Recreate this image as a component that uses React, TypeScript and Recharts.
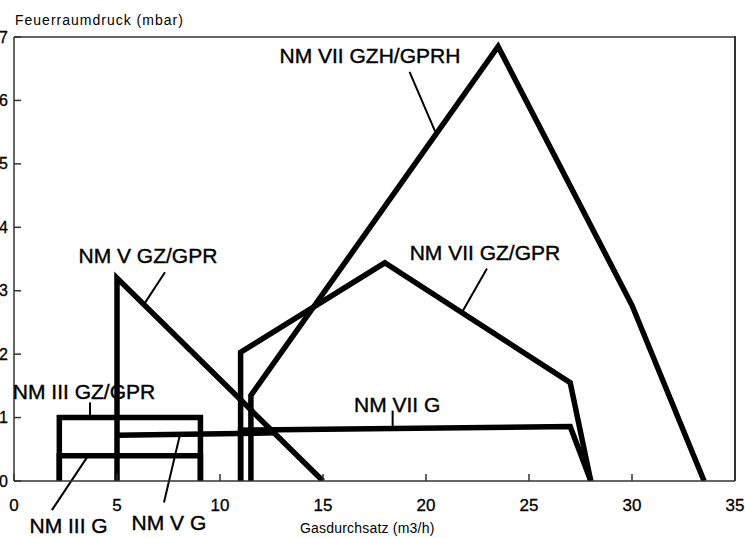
import { LineChart, Line, XAxis, YAxis, ReferenceLine, ReferenceDot } from 'recharts'

// Kennlinien: Gasdurchsatz (m3/h) -> Feuerraumdruck (mbar)
const nmIIIGZ = [
  { x: 2.2, y: 0 },
  { x: 2.2, y: 1.0 },
  { x: 9.05, y: 1.0 },
  { x: 9.05, y: 0 },
]
const nmIIIG = [
  { x: 2.2, y: 0 },
  { x: 2.2, y: 0.4 },
  { x: 9.05, y: 0.4 },
  { x: 9.05, y: 0 },
]
const nmVGZ = [
  { x: 5, y: 0 },
  { x: 5, y: 3.2 },
  { x: 15, y: 0 },
]
const nmVG = [
  { x: 5, y: 0.72 },
  { x: 12.8, y: 0.76 },
]
const nmVIIG = [
  { x: 11, y: 0 },
  { x: 11, y: 0.8 },
  { x: 27, y: 0.86 },
  { x: 28, y: 0 },
]
const nmVIIGZ = [
  { x: 11, y: 0 },
  { x: 11, y: 2.03 },
  { x: 18, y: 3.44 },
  { x: 27, y: 1.55 },
  { x: 28, y: 0 },
]
const nmVIIGZH = [
  { x: 11.5, y: 0 },
  { x: 11.5, y: 1.35 },
  { x: 23.5, y: 6.85 },
  { x: 30, y: 2.77 },
  { x: 33.5, y: 0 },
]

const xTicks = [0, 5, 10, 15, 20, 25, 30, 35]
const yTicks = [0, 1, 2, 3, 4, 5, 6, 7]

// Beschriftungen (data coords)
const labels = [
  { text: 'NM VII GZH/GPRH', x: 17.28, y: 6.59 },
  { text: 'NM VII GZ/GPR', x: 22.86, y: 3.48 },
  { text: 'NM V GZ/GPR', x: 6.5, y: 3.43 },
  { text: 'NM III GZ/GPR', x: 3.4, y: 1.3 },
  { text: 'NM VII G', x: 18.6, y: 1.08 },
  { text: 'NM III G', x: 2.65, y: -0.82 },
  { text: 'NM V G', x: 7.52, y: -0.77 },
]
const leaders = [
  { x1: 19.2, y1: 6.45, x2: 20.5, y2: 5.47 },
  { x1: 22.96, y1: 3.35, x2: 21.75, y2: 2.66 },
  { x1: 7.33, y1: 3.29, x2: 6.3, y2: 2.78 },
  { x1: 3.69, y1: 1.24, x2: 3.69, y2: 1.0 },
  { x1: 18.38, y1: 1.11, x2: 18.38, y2: 0.83 },
  { x1: 3.6, y1: 0.4, x2: 1.84, y2: -0.46 },
  { x1: 8.05, y1: 0.72, x2: 7.28, y2: -0.34 },
]

const series = [nmIIIGZ, nmIIIG, nmVGZ, nmVG, nmVIIG, nmVIIGZ, nmVIIGZH]

const font = '"Liberation Sans", Arial, sans-serif'
const axisColor = '#333'

const YTick = (props: any) => {
  const { x, y, payload } = props
  return (
    <g>
      <line x1={x} x2={x + 7} y1={y} y2={y} stroke={axisColor} strokeWidth={1.5} />
      <text x={x - 6} y={y} textAnchor="end" dominantBaseline="central" fontSize={16} fontFamily={font} fill="#000" stroke="#000" strokeWidth={0.3}>
        {payload.value}
      </text>
    </g>
  )
}

const XTick = (props: any) => {
  const { x, y, payload } = props
  return (
    <g>
      <line x1={x} x2={x} y1={y} y2={y - 7} stroke={axisColor} strokeWidth={1.5} />
      <text x={x} y={y + 30} textAnchor="middle" fontSize={17} fontFamily={font} fill="#000" stroke="#000" strokeWidth={0.3}>
        {payload.value}
      </text>
    </g>
  )
}

export default function App() {
  return (
    <div style={{ position: 'absolute', left: 0, top: 0, width: 745, height: 538, background: '#fff' }}>
      <LineChart width={745} height={538} margin={{ top: 37, right: 10, left: 0, bottom: 0 }}>
        <XAxis
          type="number"
          dataKey="x"
          domain={[0, 35]}
          ticks={xTicks}
          height={57}
          tickSize={0}
          tickMargin={0}
          tick={<XTick />}
          interval={0}
          stroke={axisColor}
          strokeWidth={1.5}
          allowDataOverflow
          label={{
            content: ({ viewBox }: any) => (
              <text x={viewBox.x + 286} y={viewBox.y + 52} fontSize={14} letterSpacing={0.2} fontFamily={font} fill="#000">
                Gasdurchsatz (m3/h)
              </text>
            ),
          }}
        />
        <YAxis
          type="number"
          domain={[0, 7]}
          ticks={yTicks}
          width={14}
          tickSize={0}
          tickMargin={0}
          tick={<YTick />}
          interval={0}
          stroke={axisColor}
          strokeWidth={1.5}
          allowDataOverflow
          label={{
            content: ({ viewBox }: any) => (
              <text x={viewBox.x + 15} y={viewBox.y - 12} fontSize={14} letterSpacing={1} fontFamily={font} fill="#000">
                Feuerraumdruck (mbar)
              </text>
            ),
          }}
        />
        <ReferenceLine y={7} stroke={axisColor} strokeWidth={1.5} ifOverflow="visible" />
        {series.map((d, i) => (
          <Line
            key={i}
            data={d}
            dataKey="y"
            type="linear"
            stroke="#000"
            strokeWidth={5.5}
            strokeLinejoin="miter"
            dot={false}
            activeDot={false}
            isAnimationActive={false}
          />
        ))}
        {leaders.map((l, i) => (
          <ReferenceLine
            key={'l' + i}
            segment={[
              { x: l.x1, y: l.y1 },
              { x: l.x2, y: l.y2 },
            ]}
            stroke="#000"
            strokeWidth={2}
            ifOverflow="visible"
          />
        ))}
        {labels.map((l, i) => (
          <ReferenceDot
            key={'t' + i}
            x={l.x}
            y={l.y}
            ifOverflow="visible"
            shape={(p: any) => (
              <text x={p.cx} y={p.cy} textAnchor="middle" fontSize={21} fontFamily={font} fill="#000" stroke="#000" strokeWidth={0.4}>
                {l.text}
              </text>
            )}
          />
        ))}
      </LineChart>
      {/* right frame edge */}
      <div style={{ position: 'absolute', left: 734, top: 36, width: 2, height: 445, background: axisColor }} />
    </div>
  )
}
